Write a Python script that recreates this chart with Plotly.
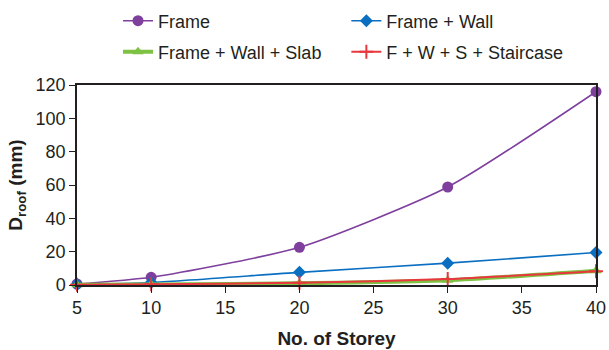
import plotly.graph_objects as go

storeys = [5, 10, 20, 30, 40]
frame = [0.6, 4.6, 22.6, 58.8, 116.0]
frame_wall = [0.3, 1.5, 7.6, 13.1, 19.5]
frame_wall_slab = [0.1, 0.3, 1.0, 2.8, 8.6]
fwss = [0.1, 0.4, 1.3, 3.6, 8.3]

names = ["Frame", "Frame + Wall", "Frame + Wall + Slab", "F + W + S + Staircase"]
series = [frame, frame_wall, frame_wall_slab, fwss]
colors = ["#7E3F9D", "#0A6FC0", "#7DC242", "#E8383D"]
widths = [1.6, 1.6, 4, 2]
symbols = ["circle", "diamond", "triangle-up", "cross-thin"]
sizes = [11, 10, 10, 10]
mlw = [0, 0, 0, 2]
legend_ids = ["legend", "legend2", "legend3", "legend4"]
legend_x = [0.079, 0.519, 0.079, 0.519]
legend_y = [1 - 21 / 350, 1 - 21 / 350, 1 - 52 / 350, 1 - 52 / 350]

fig = go.Figure()
for n, s, c, w, sym, sz, lw, lg in zip(names, series, colors, widths, symbols, sizes, mlw, legend_ids):
    fig.add_trace(go.Scatter(
        x=storeys, y=s, name=n, mode="lines+markers", legend=lg,
        line=dict(color=c, width=w, shape="spline", smoothing=0.6),
        marker=dict(symbol=sym, size=sz, color=c, line=dict(color=c, width=lw)),
        cliponaxis=False,
    ))

legs = {}
for lg, lx, ly in zip(legend_ids, legend_x, legend_y):
    legs[lg] = dict(orientation="h", x=lx, y=ly, xanchor="left", yanchor="middle",
                    yref="container", font=dict(size=18), itemwidth=30,
                    bgcolor="rgba(0,0,0,0)")

fig.update_layout(
    width=609, height=350,
    margin=dict(l=77, r=13, t=85, b=65, autoexpand=False),
    paper_bgcolor="white", plot_bgcolor="white",
    font=dict(family="Liberation Sans, Arial, sans-serif", size=18, color="#231F20"),
    showlegend=True,
    **legs,
)
fig.update_xaxes(range=[5, 40], tickvals=[5, 10, 15, 20, 25, 30, 35, 40],
                 showline=True, linecolor="#231F20", linewidth=1.5, mirror=True,
                 ticks="outside", ticklen=6, tickcolor="#231F20", showgrid=False, zeroline=False,
                 tickfont=dict(size=18),
                 title=dict(text="<b>No. of Storey</b>", font=dict(size=19), standoff=14))
fig.update_yaxes(range=[0, 120], tickvals=[0, 20, 40, 60, 80, 100, 120],
                 showline=True, linecolor="#231F20", linewidth=1.5, mirror=True,
                 ticks="outside", ticklen=6, tickcolor="#231F20", showgrid=False, zeroline=False,
                 tickfont=dict(size=18),
                 title=dict(text="<b>D<sub>roof</sub> (mm)</b>", font=dict(size=19), standoff=8))

fig.write_html("out.html", config={"displayModeBar": False},
               post_script="document.body.style.margin='0px';")
